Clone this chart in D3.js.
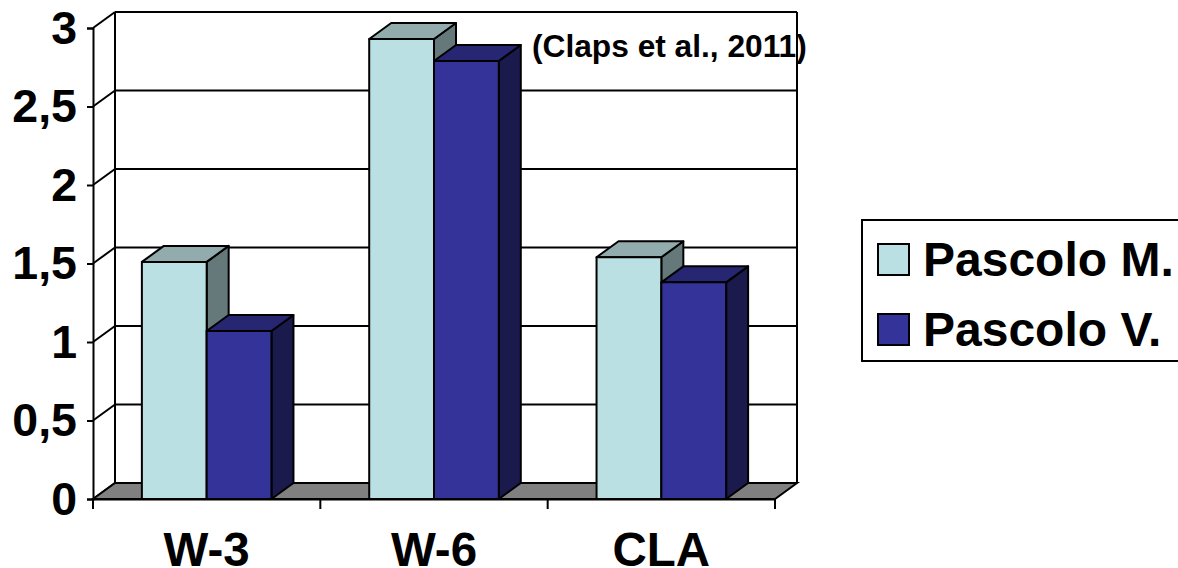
<!DOCTYPE html>
<html><head><meta charset="utf-8">
<script src="https://cdn.jsdelivr.net/npm/d3@7"></script>
<style>html,body{margin:0;padding:0;background:#fff}svg{display:block}text{font-family:"Liberation Sans",Arial,sans-serif;font-weight:bold;fill:#000}</style>
</head><body><svg id="c" width="1178" height="568"></svg>
<script>
const categories = ["W-3","W-6","CLA"];
const seriesNames = ["Pascolo M.","Pascolo V."];
const pascoloM = [1.51,2.93,1.54];
const pascoloV = [1.07,2.79,1.38];
const yTicks = [0,0.5,1,1.5,2,2.5,3];
const note = "(Claps et al., 2011)";
const faceColors = ["#BAE0E3","#333399"];
const topColors = ["#92ABAD","#262673"];
const sideColors = ["#65797A","#1A1A4D"];

const svg = d3.select("#c");
const dx = 22, dy = -16;
const y = d3.scaleLinear().domain([0,3]).range([499,28]);
const x0 = d3.scaleBand().domain(categories).range([93,775]).paddingInner(0.43).paddingOuter(0.215);
const x1 = d3.scaleBand().domain(seriesNames).range([0,x0.bandwidth()]);
const right = x0.range()[1] + dx;

// back wall and grid
const g = svg.append("g").attr("fill","none").attr("stroke","#000").attr("stroke-width",2);
g.selectAll("line.grid").data(yTicks.slice(1)).join("line").attr("class","grid")
  .attr("x1",93+dx).attr("x2",right).attr("y1",d=>y(d)+dy).attr("y2",d=>y(d)+dy);
g.selectAll("line.slant").data(yTicks).join("line").attr("class","slant")
  .attr("x1",93).attr("x2",93+dx).attr("y1",d=>y(d)).attr("y2",d=>y(d)+dy);
g.append("line").attr("x1",93+dx).attr("x2",93+dx).attr("y1",y(3)+dy).attr("y2",y(0)+dy);
g.append("line").attr("x1",right).attr("x2",right).attr("y1",y(3)+dy).attr("y2",y(0)+dy);

// floor
svg.append("path").attr("fill","#808080").attr("stroke","#000").attr("stroke-width",2)
  .attr("d",d3.line()([[93,y(0)],[93+dx,y(0)+dy],[right,y(0)+dy],[x0.range()[1],y(0)]])+"Z");

// axes
const ya = svg.append("g").attr("transform","translate(93,0)")
  .call(d3.axisLeft(y).tickValues(yTicks).tickSize(6).tickPadding(10).tickFormat(d=>String(d).replace(".",",")));
ya.selectAll("path,line").attr("stroke","#000").attr("stroke-width",2);
ya.selectAll("text").style("font-size","46.5px").attr("dy","0.33em");
const xa = svg.append("g").attr("transform",`translate(0,${y(0)})`)
  .call(d3.axisBottom(x0).tickSize(0).tickPadding(0));
xa.select("path").attr("stroke","#000").attr("stroke-width",2);
xa.selectAll("line").remove();
xa.selectAll("text").style("font-size","47.5px").attr("y",0).attr("dy","67px");
const step = x0.step();
svg.append("g").attr("stroke","#000").attr("stroke-width",2).selectAll("line")
  .data(d3.range(categories.length+1)).join("line")
  .attr("x1",i=>93+i*step).attr("x2",i=>93+i*step).attr("y1",y(0)).attr("y2",y(0)+10);

// bars
const rows = categories.map((c,i)=>({c,vals:[pascoloM[i],pascoloV[i]]}));
const groups = svg.selectAll("g.cat").data(rows).join("g").attr("class","cat")
  .attr("transform",d=>`translate(${x0(d.c)},0)`);
groups.each(function(d){
  const gg = d3.select(this);
  d.vals.forEach((v,s)=>{
    const l = x1(seriesNames[s]), w = x1.bandwidth(), t = y(v), b = y(0);
    const style = sel => sel.attr("stroke","#000").attr("stroke-width",2).attr("stroke-linejoin","round");
    gg.append("path").attr("fill",sideColors[s]).call(style)
      .attr("d",d3.line()([[l+w,t],[l+w+dx,t+dy],[l+w+dx,b+dy],[l+w,b]])+"Z");
    gg.append("path").attr("fill",topColors[s]).call(style)
      .attr("d",d3.line()([[l,t],[l+dx,t+dy],[l+w+dx,t+dy],[l+w,t]])+"Z");
    gg.append("rect").attr("fill",faceColors[s]).call(style)
      .attr("x",l).attr("y",t).attr("width",w).attr("height",b-t);
  });
});

// note
svg.append("text").attr("x",532).attr("y",57).style("font-size","31.7px").text(note);

// legend
svg.append("rect").attr("x",862).attr("y",220).attr("width",330).attr("height",141)
  .attr("fill","#fff").attr("stroke","#000").attr("stroke-width",2);
const lg = svg.selectAll("g.lg").data(seriesNames).join("g").attr("class","lg")
  .attr("transform",(d,i)=>`translate(878,${244+i*70})`);
lg.append("rect").attr("width",31).attr("height",31).attr("fill",(d,i)=>faceColors[i])
  .attr("stroke","#000").attr("stroke-width",2);
lg.append("text").attr("x",45).attr("y",32).style("font-size","48px").text(d=>d);
</script></body></html>
